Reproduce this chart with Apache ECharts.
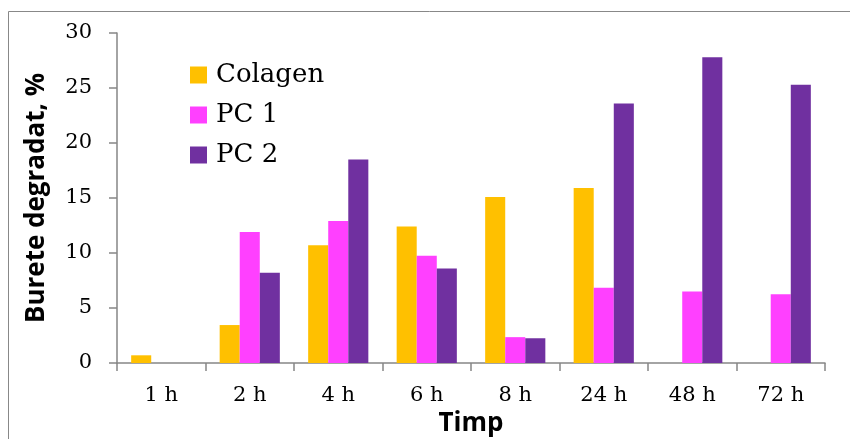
<!DOCTYPE html>
<html><head><meta charset="utf-8">
<script src="https://cdn.jsdelivr.net/npm/echarts@6/dist/echarts.min.js"></script>
<style>html,body{margin:0;padding:0;background:#fff}#c{width:850px;height:439px}</style>
</head><body><div id="c"></div>
<script>
const categories = ['1 h','2 h','4 h','6 h','8 h','24 h','48 h','72 h'];
const colagen = [0.7, 3.45, 10.7, 12.4, 15.1, 15.9, 0, 0];
const pc1 = [-0.1, 11.9, 12.9, 9.75, 2.35, 6.85, 6.5, 6.25];
const pc2 = [0, 8.2, 18.5, 8.6, 2.25, 23.6, 27.8, 25.3];
const seriesNames = ['Colagen','PC 1','PC 2'];
const colors = ['#FFC000','#FF40FF','#7030A0'];

const chart = echarts.init(document.getElementById('c'), null, {renderer:'canvas'});
const serif = 'DejaVu Serif';
const axisColor = '#868686';
chart.setOption({
  animation:false,
  graphic:[{type:'rect',shape:{x:8.5,y:11.5,width:850,height:440},style:{fill:null,stroke:'#888',lineWidth:1},silent:true}],
  grid:{left:117,right:25,top:33,bottom:76,outerBoundsMode:'none',containLabel:false},
  legend:{orient:'vertical',left:190,top:62,padding:0,itemWidth:17,itemHeight:17,itemGap:14,
    icon:'rect',textStyle:{fontFamily:serif,fontSize:26,color:'#000',padding:[0,0,0,4]},data:seriesNames},
  xAxis:{type:'category',data:categories,
    name:'Timp',nameLocation:'middle',nameGap:46,
    nameTextStyle:{fontFamily:'Open Sans',fontWeight:'bold',fontSize:26,color:'#000'},
    axisLine:{lineStyle:{color:axisColor,width:1.5}},
    axisTick:{show:true,length:8,lineStyle:{color:axisColor,width:1.5}},
    axisLabel:{fontFamily:serif,fontSize:21,color:'#000',margin:22}},
  yAxis:{type:'value',min:0,max:30,interval:5,
    name:'Burete degradat, %',nameLocation:'middle',nameGap:67,nameRotate:90,
    nameTextStyle:{fontFamily:'Open Sans',fontWeight:'bold',fontSize:26,color:'#000'},
    axisLine:{show:true,lineStyle:{color:axisColor,width:1.5}},
    axisTick:{show:true,length:8,lineStyle:{color:axisColor,width:1.5}},
    splitLine:{show:false},
    axisLabel:{fontFamily:serif,fontSize:21,color:'#000',margin:25,padding:[4,0,0,0]}},
  series:[
    {name:seriesNames[0],type:'bar',data:colagen,itemStyle:{color:colors[0]},barGap:'0%',barCategoryGap:'32%'},
    {name:seriesNames[1],type:'bar',data:pc1,itemStyle:{color:colors[1]},barGap:'0%',barCategoryGap:'32%'},
    {name:seriesNames[2],type:'bar',data:pc2,itemStyle:{color:colors[2]},barGap:'0%',barCategoryGap:'32%'}
  ]
});
</script></body></html>
